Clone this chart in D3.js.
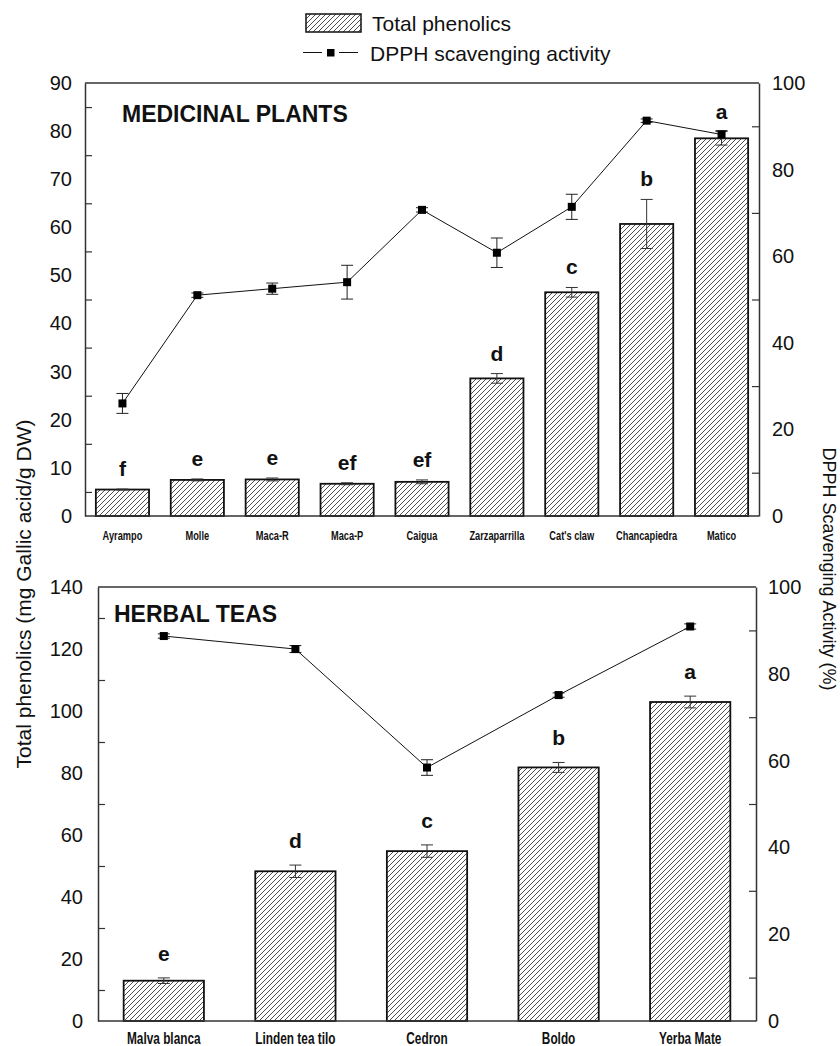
<!DOCTYPE html>
<html><head><meta charset="utf-8">
<script src="https://cdn.jsdelivr.net/npm/d3@7/dist/d3.min.js"></script>
<style>
html,body{margin:0;padding:0;background:#fff;}
svg{display:block;font-family:"Liberation Sans",Arial,sans-serif;}
</style></head>
<body>
<svg id="chart" width="840" height="1046"></svg>
<script>
// ---------- DATA ----------
const medCategories = ["Ayrampo","Molle","Maca-R","Maca-P","Caigua","Zarzaparrilla","Cat's claw","Chancapiedra","Matico"];
const medPhenolics = [5.5, 7.5, 7.6, 6.7, 7.1, 28.6, 46.5, 60.7, 78.5];
const medPhenolicsErr = [0.1, 0.2, 0.3, 0.2, 0.4, 1.0, 1.0, 5.1, 1.4];
const medDPPH = [26.0, 51.0, 52.5, 54.0, 70.7, 60.8, 71.4, 91.3, 88.1];
const medDPPHErr = [2.3, 0.5, 1.3, 3.9, 0.5, 3.4, 2.9, 0.4, 0.9];
const medLetters = ["f","e","e","ef","ef","d","c","b","a"];

const teaCategories = ["Malva blanca","Linden tea tilo","Cedron","Boldo","Yerba Mate"];
const teaPhenolics = [13.0, 48.3, 54.8, 81.8, 102.9];
const teaPhenolicsErr = [0.9, 2.0, 2.0, 1.6, 1.9];
const teaDPPH = [88.7, 85.7, 58.4, 75.1, 90.9];
const teaDPPHErr = [0.5, 0.8, 1.8, 0.5, 0.6];
const teaLetters = ["e","d","c","b","a"];

const medLeftTicks = [0,10,20,30,40,50,60,70,80,90];
const medLeftMinor = [5,15,25,35,45,55,65,75,85];
const teaLeftTicks = [0,20,40,60,80,100,120,140];
const teaLeftMinor = [10,30,50,70,90,110,130];
const rightTicks = [0,20,40,60,80,100];
const rightMinor = [10,30,50,70,90];

const legendLabels = ["Total phenolics","DPPH scavenging activity"];
const leftTitle = "Total phenolics (mg Gallic acid/g DW)";
const rightTitle = "DPPH Scavenging Activity (%)";

// ---------- DRAW ----------
const svg = d3.select("#chart");
const defs = svg.append("defs");
const pat = defs.append("pattern").attr("id","hatch").attr("patternUnits","userSpaceOnUse")
  .attr("width",5).attr("height",5);
pat.append("rect").attr("width",5).attr("height",5).attr("fill","#fff");
pat.append("path").attr("d","M-1,6 L6,-1 M-1,1 L1,-1 M4,6 L6,4")
  .attr("stroke","#222").attr("stroke-width",0.8);

const AX = "#333";

function panel(cfg){
  const g = svg.append("g");
  const x = d3.scaleBand().domain(cfg.cats).range([cfg.x0,cfg.x1])
    .paddingInner(cfg.padIn).paddingOuter(cfg.padOut);
  const yL = d3.scaleLinear().domain([0,cfg.lmax]).range([cfg.yb,cfg.yt]);
  const yR = d3.scaleLinear().domain([0,100]).range([cfg.yb,cfg.yt]);

  // bars
  g.selectAll("rect.bar").data(cfg.phen).join("rect").attr("class","bar")
    .attr("x",(d,i)=>x(cfg.cats[i])).attr("width",x.bandwidth())
    .attr("y",d=>yL(d)).attr("height",d=>yL(0)-yL(d))
    .attr("fill","url(#hatch)").attr("stroke","#111").attr("stroke-width",1.8);

  // bar error bars
  const cw = 6;
  cfg.phen.forEach((v,i)=>{
    const cx = x(cfg.cats[i]) + x.bandwidth()/2;
    const e = cfg.phenErr[i];
    const eg = g.append("g").attr("stroke","#333").attr("stroke-width",1);
    eg.append("line").attr("x1",cx).attr("x2",cx).attr("y1",yL(v-e)).attr("y2",yL(v+e));
    eg.append("line").attr("x1",cx-cw).attr("x2",cx+cw).attr("y1",yL(v-e)).attr("y2",yL(v-e));
    eg.append("line").attr("x1",cx-cw).attr("x2",cx+cw).attr("y1",yL(v+e)).attr("y2",yL(v+e));
  });

  // line
  const line = d3.line().x((d,i)=>x(cfg.cats[i])+x.bandwidth()/2).y(d=>yR(d));
  g.append("path").datum(cfg.dpph).attr("d",line).attr("fill","none")
    .attr("stroke","#111").attr("stroke-width",1);
  cfg.dpph.forEach((v,i)=>{
    const cx = x(cfg.cats[i]) + x.bandwidth()/2;
    const e = cfg.dpphErr[i];
    const eg = g.append("g").attr("stroke","#222").attr("stroke-width",1);
    eg.append("line").attr("x1",cx).attr("x2",cx).attr("y1",yR(v-e)).attr("y2",yR(v+e));
    eg.append("line").attr("x1",cx-cw).attr("x2",cx+cw).attr("y1",yR(v-e)).attr("y2",yR(v-e));
    eg.append("line").attr("x1",cx-cw).attr("x2",cx+cw).attr("y1",yR(v+e)).attr("y2",yR(v+e));
  });
  g.selectAll("rect.mk").data(cfg.dpph).join("rect").attr("class","mk")
    .attr("x",(d,i)=>x(cfg.cats[i])+x.bandwidth()/2-4).attr("y",d=>yR(d)-4)
    .attr("width",8).attr("height",8).attr("fill","#000");

  // letters
  g.selectAll("text.let").data(cfg.letters).join("text").attr("class","let")
    .attr("x",(d,i)=>x(cfg.cats[i])+x.bandwidth()/2)
    .attr("y",(d,i)=>yL(cfg.phen[i]+cfg.phenErr[i]) - cfg.letOff)
    .attr("text-anchor","middle").attr("font-weight","bold").attr("font-size",21)
    .attr("fill","#111").text(d=>d);

  // frame top
  g.append("line").attr("x1",cfg.x0).attr("x2",cfg.x1).attr("y1",cfg.yt).attr("y2",cfg.yt)
    .attr("stroke",AX).attr("stroke-width",1.5);
  // x baseline
  g.append("line").attr("x1",cfg.x0).attr("x2",cfg.x1).attr("y1",cfg.yb).attr("y2",cfg.yb)
    .attr("stroke",AX).attr("stroke-width",1.5);

  // left axis
  const la = g.append("g").attr("transform",`translate(${cfg.x0},0)`)
    .call(d3.axisLeft(yL).tickValues(cfg.lticks).tickSize(0).tickSizeOuter(0).tickPadding(cfg.lpad).tickFormat(d3.format("d")));
  la.select(".domain").attr("stroke",AX).attr("stroke-width",1.5);
  la.selectAll("text").attr("font-size",20).attr("fill","#111").attr("font-family","Liberation Sans, Arial, sans-serif");
  const lm = g.append("g").attr("transform",`translate(${cfg.x0},0)`)
    .call(d3.axisLeft(yL).tickValues(cfg.lminor).tickSize(-7).tickSizeOuter(0).tickFormat(""));
  lm.select(".domain").remove();
  lm.selectAll("line").attr("stroke",AX).attr("stroke-width",1.2);

  // right axis
  const ra = g.append("g").attr("transform",`translate(${cfg.x1},0)`)
    .call(d3.axisRight(yR).tickValues(rightTicks).tickSize(0).tickSizeOuter(0).tickPadding(cfg.rpad).tickFormat(d3.format("d")));
  ra.select(".domain").attr("stroke",AX).attr("stroke-width",1.5);
  ra.selectAll("text").attr("font-size",20).attr("fill","#111").attr("font-family","Liberation Sans, Arial, sans-serif");
  const rm = g.append("g").attr("transform",`translate(${cfg.x1},0)`)
    .call(d3.axisRight(yR).tickValues(rightMinor).tickSize(-7).tickSizeOuter(0).tickFormat(""));
  rm.select(".domain").remove();
  rm.selectAll("line").attr("stroke",AX).attr("stroke-width",1.2);

  // category labels (condensed bold)
  cfg.cats.forEach(c=>{
    const cx = x(c)+x.bandwidth()/2;
    g.append("g").attr("transform",`translate(${cx},${cfg.catY}) scale(0.74,1)`)
      .append("text").attr("text-anchor","middle").attr("font-weight","bold")
      .attr("font-size",cfg.catFs).attr("fill","#111").text(c);
  });

  // panel title
  g.append("text").attr("x",cfg.titleX).attr("y",cfg.titleY).attr("font-weight","bold")
    .attr("font-size",23).attr("fill","#111").text(cfg.title);
}

panel({cats:medCategories, phen:medPhenolics, phenErr:medPhenolicsErr, dpph:medDPPH, dpphErr:medDPPHErr,
  letters:medLetters, x0:85, x1:759, yt:83, yb:516, lmax:90, padIn:0.29, padOut:0.145,
  lticks:medLeftTicks, lminor:medLeftMinor, lpad:13, rpad:13, catY:540, catFs:12.5,
  title:"MEDICINAL PLANTS", titleX:122, titleY:122, letOff:13});

panel({cats:teaCategories, phen:teaPhenolics, phenErr:teaPhenolicsErr, dpph:teaDPPH, dpphErr:teaDPPHErr,
  letters:teaLetters, x0:98, x1:756, yt:587, yb:1021, lmax:140, padIn:0.39, padOut:0.195,
  lticks:teaLeftTicks, lminor:teaLeftMinor, lpad:15, rpad:12, catY:1044, catFs:16,
  title:"HERBAL TEAS", titleX:114, titleY:622, letOff:17});

// legend
const lg = svg.append("g");
lg.append("rect").attr("x",306).attr("y",14).attr("width",55).attr("height",18)
  .attr("fill","url(#hatch)").attr("stroke","#111").attr("stroke-width",1.5);
lg.append("text").attr("x",372).attr("y",31).attr("font-size",21).attr("fill","#111").text(legendLabels[0]);
lg.append("line").attr("x1",303).attr("x2",322).attr("y1",52.5).attr("y2",52.5).attr("stroke","#111").attr("stroke-width",1);
lg.append("line").attr("x1",339).attr("x2",358).attr("y1",52.5).attr("y2",52.5).attr("stroke","#111").attr("stroke-width",1);
lg.append("rect").attr("x",327).attr("y",49).attr("width",7.5).attr("height",7.5).attr("fill","#000");
lg.append("text").attr("x",370).attr("y",61).attr("font-size",21).attr("fill","#111").text(legendLabels[1]);

// axis titles
svg.append("text").attr("transform","translate(31,594) rotate(-90)").attr("text-anchor","middle")
  .attr("font-size",21).attr("fill","#111").text(leftTitle);
svg.append("text").attr("transform","translate(823,569) rotate(90)").attr("text-anchor","middle")
  .attr("font-size",18).attr("fill","#111").text(rightTitle);
</script>
</body></html>
